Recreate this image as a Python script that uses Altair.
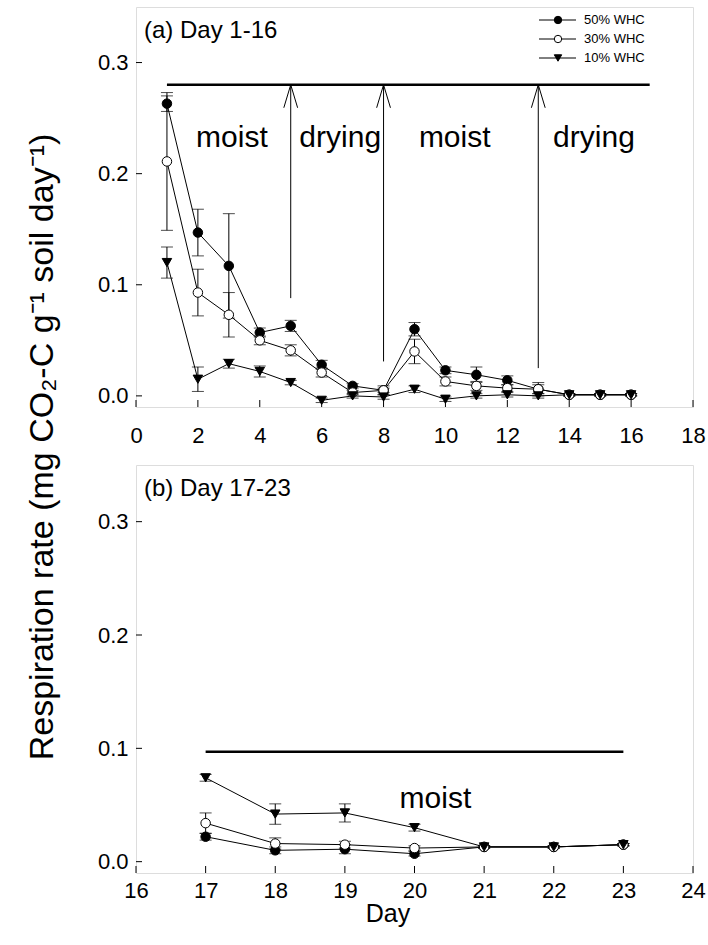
import altair as alt
import pandas as pd

# ---------------- data ----------------
series = ["50% WHC", "30% WHC", "10% WHC"]

days_a = [1, 2, 3, 4, 5, 6, 7, 8, 9, 10, 11, 12, 13, 14, 15, 16]
r50_a = [0.263, 0.147, 0.117, 0.057, 0.063, 0.028, 0.009, 0.005, 0.060, 0.023, 0.019, 0.014, 0.006, 0.001, 0.001, 0.001]
e50_a = [0.007, 0.021, 0.047, 0.004, 0.005, 0.004, 0.002, 0.002, 0.006, 0.003, 0.007, 0.004, 0.004, 0.001, 0.001, 0.001]
r30_a = [0.211, 0.093, 0.073, 0.050, 0.041, 0.021, 0.003, 0.005, 0.040, 0.013, 0.009, 0.007, 0.006, 0.001, 0.001, 0.001]
e30_a = [0.062, 0.021, 0.020, 0.004, 0.005, 0.004, 0.002, 0.004, 0.011, 0.004, 0.004, 0.003, 0.006, 0.001, 0.001, 0.001]
r10_a = [0.120, 0.015, 0.029, 0.022, 0.012, -0.004, 0.000, -0.001, 0.006, -0.003, 0.000, 0.001, 0.000, 0.001, 0.001, 0.001]
e10_a = [0.014, 0.011, 0.004, 0.005, 0.002, 0.002, 0.002, 0.002, 0.003, 0.002, 0.002, 0.002, 0.002, 0.001, 0.001, 0.001]

days_b = [17, 18, 19, 20, 21, 22, 23]
r50_b = [0.022, 0.010, 0.011, 0.007, 0.013, 0.013, 0.015]
e50_b = [0.003, 0.003, 0.004, 0.002, 0.001, 0.001, 0.001]
r30_b = [0.034, 0.016, 0.015, 0.012, 0.013, 0.013, 0.015]
e30_b = [0.009, 0.005, 0.003, 0.002, 0.001, 0.001, 0.001]
r10_b = [0.074, 0.042, 0.043, 0.030, 0.013, 0.013, 0.015]
e10_b = [0.003, 0.009, 0.008, 0.003, 0.001, 0.001, 0.001]

y_ticks = [0.0, 0.1, 0.2, 0.3]
x_ticks_a = [0, 2, 4, 6, 8, 10, 12, 14, 16, 18]
x_ticks_b = [16, 17, 18, 19, 20, 21, 22, 23, 24]
y_domain = [-0.01, 0.35]
x_domain_a = [0, 18]
x_domain_b = [16, 24]

# treatment-phase annotations (panel a)
phase_line_a = [1, 16.6]
phase_level_a = 0.28
arrow_days = [5, 8, 13]
arrow_base = [0.088, 0.031, 0.025]
phase_labels_a = ["moist", "drying", "moist", "drying"]
phase_label_x_a = [3.1, 6.6, 10.3, 14.8]
phase_label_y_a = 0.232

# panel b
phase_line_b = [17, 23]
phase_level_b = 0.097
phase_labels_b = ["moist"]
phase_label_x_b = [20.3]
phase_label_y_b = 0.055

panel_titles = ["(a) Day 1-16", "(b) Day 17-23"]
y_title = "Respiration rate (mg CO\u2082-C g\u207b\u00b9 soil day\u207b\u00b9)"
x_title = "Day"

# ---------------- styling ----------------
FONT = "Liberation Sans"
W = 557
HA = 400
HB = 408
shapes = ["circle", "circle", "triangle-down"]
fills = ["black", "white", "black"]
ARROW = "M -0.3 1 L 0 0 L 0.3 1"


def make_df(days, vals, errs):
    rows = []
    for s, v, e in zip(series, vals, errs):
        for d, m, er in zip(days, v, e):
            rows.append({"series": s, "day": d, "rate": m, "lo": m - er, "hi": m + er})
    return pd.DataFrame(rows)


def panel(df, xdom, xticks, H, line_x, line_y, arrows, labels, lab_x, lab_y, title,
          show_legend, show_xtitle, xpad):
    xs = alt.Scale(domain=xdom, nice=False, zero=False)
    ys = alt.Scale(domain=y_domain, nice=False, zero=False)
    xa = alt.Axis(values=xticks, ticks=False, tickSize=0, domain=False, grid=False,
                  labelPadding=xpad, labelFontSize=22, labelFlush=False, title=None)
    ya = alt.Axis(values=y_ticks, format=".1f", ticks=False, tickSize=0, domain=False,
                  grid=False, labelPadding=8, labelFontSize=22, labelFlush=False, title=None)

    def X(f):
        return alt.X(f, type="quantitative", scale=xs, axis=xa)

    def Y(f):
        return alt.Y(f, type="quantitative", scale=ys, axis=ya)

    base = alt.Chart(df)

    lines = base.mark_line(color="black", strokeWidth=1).encode(
        x=X("day"), y=Y("rate"), detail="series:N"
    )
    err = base.mark_rule(color="black", strokeWidth=1).encode(x=X("day"), y=Y("lo"), y2="hi:Q")
    cap_hi = base.mark_tick(orient="horizontal", size=12, thickness=1, color="black").encode(
        x=X("day"), y=Y("hi")
    )
    cap_lo = base.mark_tick(orient="horizontal", size=12, thickness=1, color="black").encode(
        x=X("day"), y=Y("lo")
    )
    pts = base.mark_point(filled=True, stroke="black", strokeWidth=1, size=90, opacity=1).encode(
        x=X("day"),
        y=Y("rate"),
        shape=alt.Shape("series:N", scale=alt.Scale(domain=series, range=shapes), legend=None),
        fill=alt.Fill("series:N", scale=alt.Scale(domain=series, range=fills), legend=None),
    )

    ytk = alt.Chart(pd.DataFrame({"v": y_ticks})).mark_rule(color="black", strokeWidth=1).encode(
        y=Y("v"), x=alt.value(0), x2=alt.value(6)
    )
    xtk = alt.Chart(pd.DataFrame({"v": xticks})).mark_rule(color="black", strokeWidth=1).encode(
        x=X("v"), y=alt.value(H), y2=alt.value(H - 7)
    )

    pl = alt.Chart(pd.DataFrame({"a": [line_x[0]], "b": [line_x[1]], "y": [line_y]})).mark_rule(
        color="black", strokeWidth=2.5
    ).encode(x=X("a"), x2="b:Q", y=Y("y"))

    txt = alt.Chart(pd.DataFrame({"x": lab_x, "t": labels, "y": [lab_y] * len(labels)})).mark_text(
        fontSize=30, font=FONT, color="black"
    ).encode(x=X("x"), y=Y("y"), text="t:N")

    ttl = alt.Chart(pd.DataFrame({"t": [title]})).mark_text(
        align="left", baseline="middle", fontSize=24, font=FONT, color="black"
    ).encode(x=alt.value(8), y=alt.value(24), text="t:N")

    layers = [lines, err, cap_hi, cap_lo, pts, ytk, xtk, pl, txt, ttl]

    if arrows is not None:
        adays, abase = arrows
        adf = pd.DataFrame({"d": adays, "lo": abase, "hi": [line_y] * len(adays)})
        ar = alt.Chart(adf).mark_rule(color="black", strokeWidth=1).encode(
            x=X("d"), y=Y("lo"), y2="hi:Q"
        )
        ah = alt.Chart(adf).mark_point(shape=ARROW, size=2116, filled=False, stroke="black",
                                       strokeWidth=1, opacity=1).encode(x=X("d"), y=Y("hi"))
        layers += [ar, ah]

    if show_legend:
        for i, (s, shp, fc) in enumerate(zip(series, shapes, fills)):
            yy = 13 + 19 * i
            ldf = pd.DataFrame({"t": [s]})
            layers.append(alt.Chart(ldf).mark_rule(color="black", strokeWidth=1).encode(
                x=alt.value(403), x2=alt.value(440), y=alt.value(yy)))
            layers.append(alt.Chart(ldf).mark_point(shape=shp, size=55, filled=True, fill=fc,
                                                    stroke="black", strokeWidth=1, opacity=1).encode(
                x=alt.value(422), y=alt.value(yy)))
            layers.append(alt.Chart(ldf).mark_text(align="left", baseline="middle", fontSize=13,
                                                   font=FONT, color="black").encode(
                x=alt.value(448), y=alt.value(yy), text="t:N"))

    if show_xtitle:
        layers.append(alt.Chart(pd.DataFrame({"t": [x_title]})).mark_text(
            fontSize=25, font=FONT, color="black", baseline="middle").encode(
            x=alt.value(252), y=alt.value(H + 41), text="t:N"))
    else:
        layers.append(alt.Chart(pd.DataFrame({"t": [y_title]})).mark_text(
            fontSize=34, font=FONT, color="black", angle=270, baseline="middle", align="center").encode(
            x=alt.value(-93), y=alt.value(440), text="t:N"))

    return alt.layer(*layers).properties(width=W, height=H)


df_a = make_df(days_a, [r50_a, r30_a, r10_a], [e50_a, e30_a, e10_a])
df_b = make_df(days_b, [r50_b, r30_b, r10_b], [e50_b, e30_b, e10_b])

top = panel(df_a, x_domain_a, x_ticks_a, HA, phase_line_a, phase_level_a, (arrow_days, arrow_base),
            phase_labels_a, phase_label_x_a, phase_label_y_a, panel_titles[0], True, False, 18)
bottom = panel(df_b, x_domain_b, x_ticks_b, HB, phase_line_b, phase_level_b, None,
               phase_labels_b, phase_label_x_b, phase_label_y_b, panel_titles[1], False, True, 7)

chart = alt.vconcat(top, bottom, spacing=58, bounds="flush").properties(
    padding={"left": 25, "top": 6, "right": 0, "bottom": 0}
).configure_view(
    stroke="#333333", strokeWidth=1.5
).configure_axis(
    labelFont=FONT, labelColor="black"
).configure(font=FONT)

chart.save("out.html", embed_options={"renderer": "svg", "actions": False})
